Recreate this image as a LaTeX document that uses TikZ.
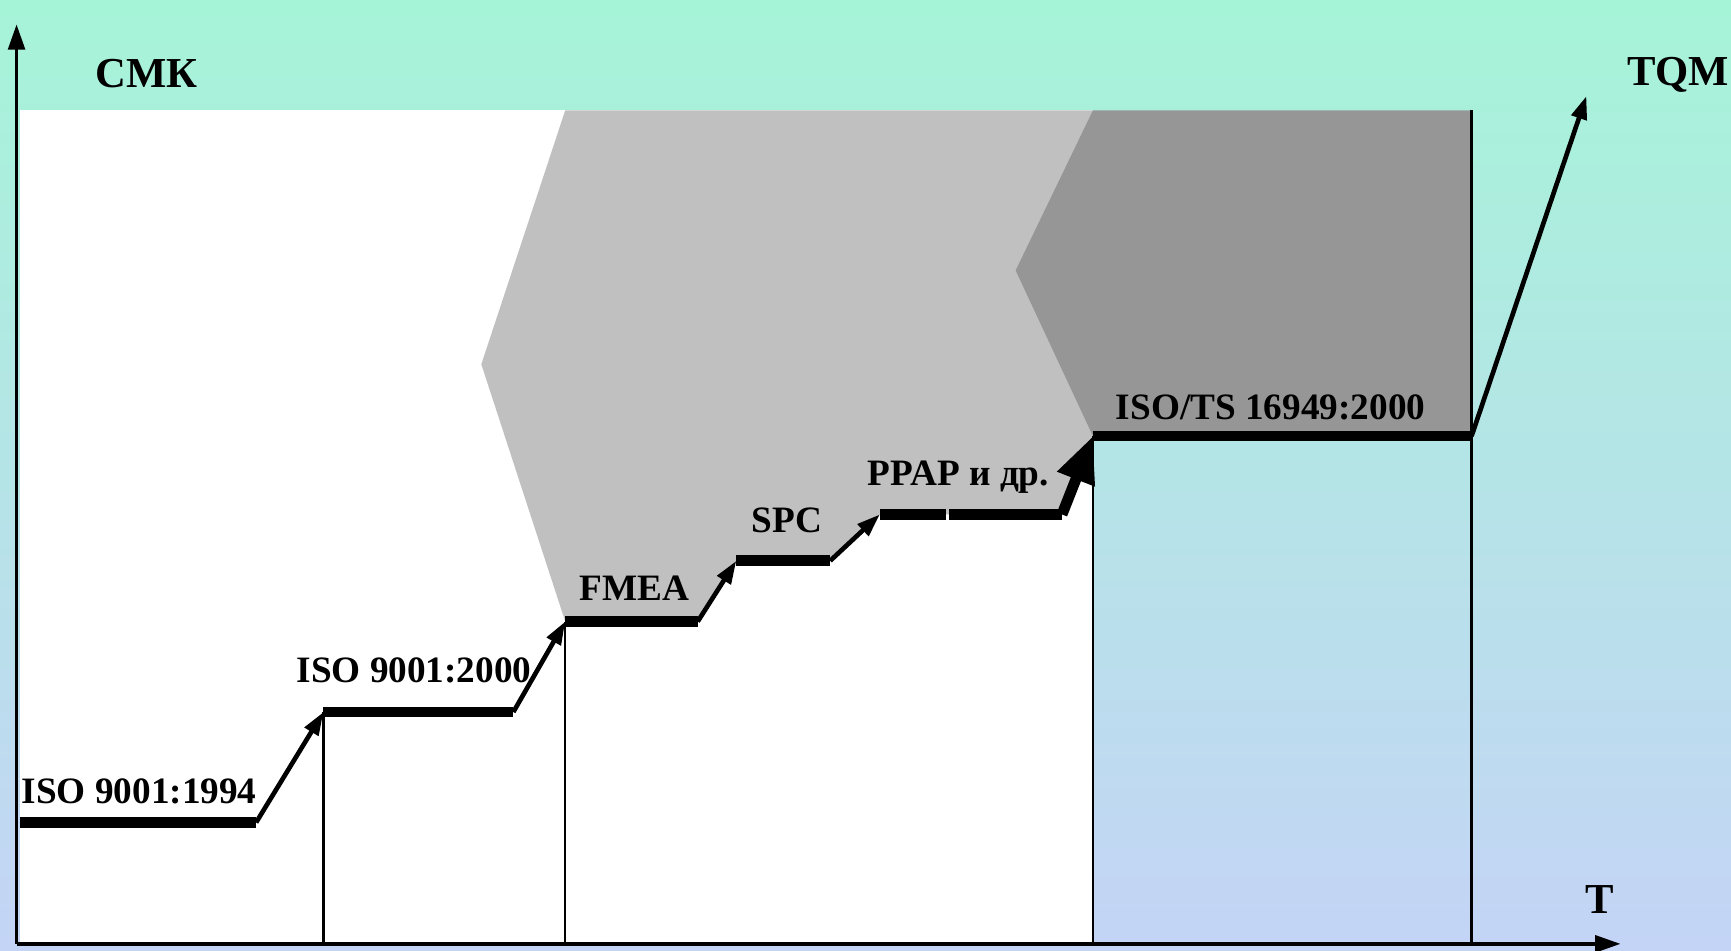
\documentclass[tikz,border=0pt]{standalone}
\usepackage{fontspec}
\setmainfont{Liberation Serif}
\usetikzlibrary{arrows.meta}
\definecolor{bgtop}{HTML}{A6F4D8}
\definecolor{bgbot}{HTML}{C4D4F6}
\definecolor{lightgr}{HTML}{C0C0C0}
\definecolor{darkgr}{HTML}{969696}

\begin{document}
\begin{tikzpicture}[
    lbl/.style={font=\bfseries\fontsize{9.6}{11}\selectfont, inner sep=0pt},
    big/.style={font=\bfseries\fontsize{11}{13}\selectfont, inner sep=0pt},
    bar/.style={line width=2.8pt},
    thin/.style={line width=0.6pt},
    axis/.style={line width=1pt, -{Triangle[length=0.23cm,width=0.15cm]}},
    up/.style={line width=1.2pt, -{Triangle[length=0.21cm,width=0.14cm]}}]

    \useasboundingbox (0,0) rectangle (15.68,8.61);
    \shade[top color=bgtop, bottom color=bgbot] (0,0) rectangle (15.68,8.61);

    % areas
    \fill[white] (0.18,0.06) rectangle (9.90,7.61);
    \fill[lightgr] (5.12,7.61) -- (9.90,7.61) -- (9.90,4.66) -- (9.62,3.95) -- (7.97,3.95)
        -- (7.52,3.53) -- (6.67,3.53) -- (6.32,2.98) -- (5.12,2.98) -- (4.36,5.31) -- cycle;
    \fill[darkgr] (9.20,6.16) -- (9.90,7.61) -- (13.33,7.61) -- (13.33,4.66) -- (9.90,4.66) -- cycle;

    % steps
    \coordinate (o) at (0.15,0.06);
    \coordinate (ytop) at (0.15,8.39);
    \coordinate (xend) at (14.68,0.06);
    \coordinate (s1a) at (0.18,1.16);
    \coordinate (s1b) at (2.32,1.16);
    \coordinate (s2a) at (2.93,2.16);
    \coordinate (s2b) at (4.65,2.16);
    \coordinate (s3a) at (5.12,2.98);
    \coordinate (s3b) at (6.32,2.98);
    \coordinate (s4a) at (6.67,3.53);
    \coordinate (s4b) at (7.52,3.53);
    \coordinate (s5a) at (7.97,3.95);
    \coordinate (s5m) at (8.57,3.95);
    \coordinate (s5n) at (8.60,3.95);
    \coordinate (s5b) at (9.62,3.95);
    \coordinate (s6a) at (9.90,4.66);
    \coordinate (s6b) at (13.33,4.66);
    \coordinate (tqm) at (14.37,7.74);

    \draw[thin] (s2a) -- (s2a |- o);
    \draw[thin] (s3a) -- (s3a |- o);
    \draw[thin] (s6a) -- (s6a |- o);
    \draw[thin] (13.33,7.61) -- (s6b |- o);

    \draw[bar] (s1a) -- (s1b);
    \draw[bar] (s2a) -- (s2b);
    \draw[bar] (s3a) -- (s3b);
    \draw[bar] (s4a) -- (s4b);
    \draw[bar] (s5a) -- (s5m);
    \draw[bar] (s5n) -- (s5b);
    \draw[bar] (s6a) -- (s6b);

    \draw[up] (s1b) -- (s2a);
    \draw[up] (s2b) -- (s3a);
    \draw[up] (s3b) -- (s4a);
    \draw[up] (s4b) -- (s5a);
    \draw[line width=2.8pt, -{Triangle[length=0.42cm,width=0.34cm]}] (s5b) -- (s6a);
    \draw[up] (s6b) -- (tqm);

    \draw[axis] (o) -- (ytop);
    \draw[axis] (o) -- (xend);

    % labels
    \node[big] (smk) at (1.33,7.94) {СМК};
    \node[big] (tq) at (15.20,7.93) {TQM};
    \node[big] (t) at (14.49,0.46) {T};
    \node[lbl] (iso94) at (1.26,1.44) {ISO 9001:1994};
    \node[lbl] (iso00) at (3.75,2.54) {ISO 9001:2000};
    \node[lbl] (fmea) at (5.75,3.28) {FMEA};
    \node[lbl] (spc) at (7.13,3.90) {SPC};
    \node[lbl] (ppap) at (8.68,4.29) {PPAP и др.};
    \node[lbl] (ts) at (11.51,4.92) {ISO/TS 16949:2000};

\end{tikzpicture}
\end{document}
